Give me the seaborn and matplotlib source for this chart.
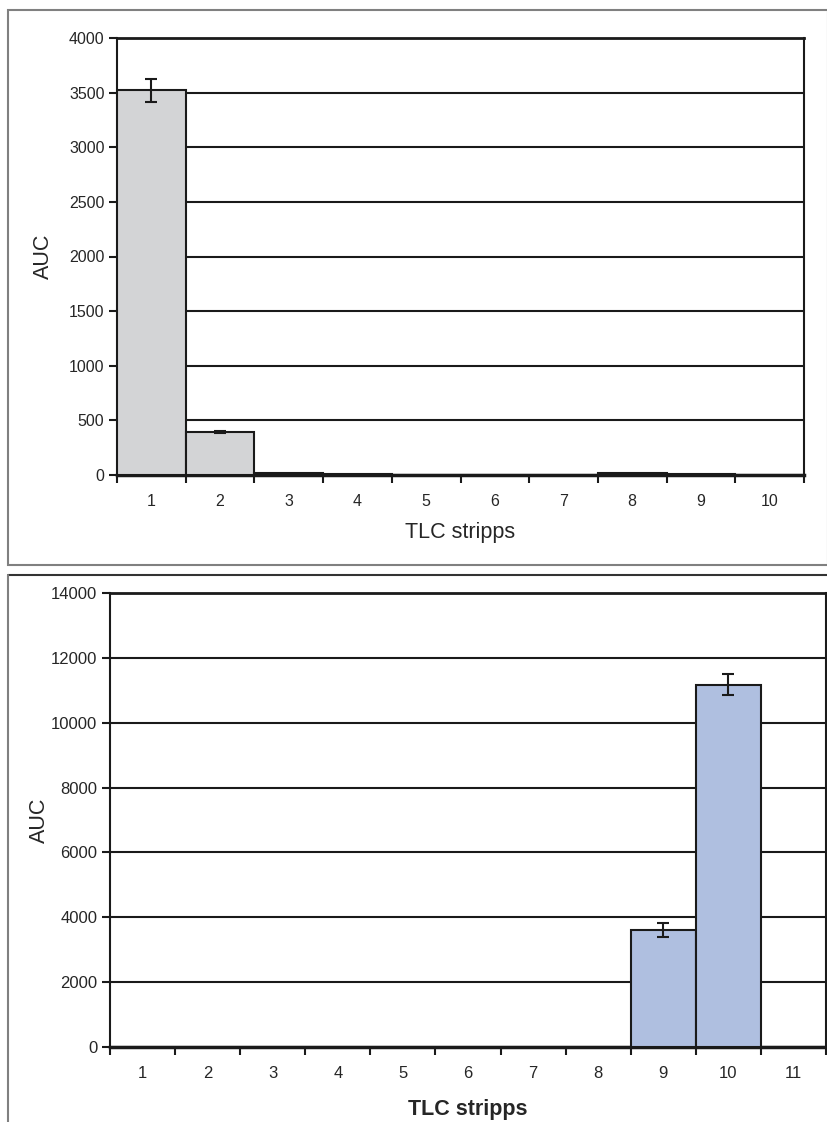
import numpy as np
import pandas as pd
import matplotlib
matplotlib.use("Agg")
import matplotlib.pyplot as plt
from matplotlib.patches import Rectangle
from matplotlib.lines import Line2D
import seaborn as sns

# ---- data ----
top_strips = ["1", "2", "3", "4", "5", "6", "7", "8", "9", "10"]
top_auc = [3520, 395, 15, 5, 3, 3, 3, 20, 12, 3]
top_err = [105, 10, 0, 0, 0, 0, 0, 0, 0, 0]

bot_strips = ["1", "2", "3", "4", "5", "6", "7", "8", "9", "10", "11"]
bot_auc = [15, 15, 15, 15, 15, 15, 15, 15, 3600, 11170, 15]
bot_err = [0, 0, 0, 0, 0, 0, 0, 0, 210, 330, 0]

top_yticks = [0, 500, 1000, 1500, 2000, 2500, 3000, 3500, 4000]
bot_yticks = [0, 2000, 4000, 6000, 8000, 10000, 12000, 14000]

sns.set_style("white")
plt.rcParams["font.family"] = ["Liberation Sans", "DejaVu Sans"]

W, H = 827, 1122
fig = plt.figure(figsize=(W / 100, H / 100), dpi=100)

def fx(px):
    return px / W

def fy(py):
    return 1 - py / H

ax1 = fig.add_axes([fx(117), fy(475), fx(804) - fx(117), fy(38) - fy(475)])
ax2 = fig.add_axes([fx(110), fy(1047), fx(826) - fx(110), fy(593) - fy(1047)])

def draw(ax, cats, vals, errs, color, yticks, ticksize, labsize, bold,
         ypad, xpad):
    df = pd.DataFrame({"strip": cats, "auc": vals})
    sns.barplot(data=df, x="strip", y="auc", order=cats, color=color,
                saturation=1, width=1.0, edgecolor="#1a1a1a", linewidth=1.5,
                ax=ax, zorder=3)
    n = len(cats)
    x = np.arange(n)
    errs = np.array(errs, dtype=float)
    m = errs > 0
    ax.errorbar(x[m], np.array(vals)[m], yerr=errs[m], fmt="none",
                ecolor="#1a1a1a", elinewidth=1.5, capsize=4, capthick=1.5,
                zorder=4)
    ax.set_xlim(-0.5, n - 0.5)
    ax.set_ylim(yticks[0], yticks[-1])
    ax.set_yticks(yticks)
    ax.set_yticklabels([str(t) for t in yticks], fontsize=ticksize)
    for t in yticks[1:-1]:
        ax.axhline(t, color="#1a1a1a", lw=1.5, zorder=1)
    # ticks at boundaries, labels at centers
    ax.set_xticks(np.arange(n + 1) - 0.5)
    ax.set_xticklabels([])
    ax.set_xticks(x, minor=True)
    ax.set_xticklabels(cats, minor=True, fontsize=ticksize)
    ax.tick_params(axis="x", which="major", direction="out", length=6,
                   width=1.5, color="#1a1a1a", bottom=True)
    ax.tick_params(axis="x", which="minor", length=0, pad=14)
    ax.tick_params(axis="y", direction="out", length=6, width=1.5,
                   color="#1a1a1a", left=True, pad=3)
    for s in ax.spines.values():
        s.set_color("#1a1a1a")
        s.set_linewidth(1.5)
        s.set_visible(True)
    ax.spines["bottom"].set_linewidth(2.5)
    ax.spines["top"].set_linewidth(2.0)
    ax.set_ylabel("AUC", fontsize=labsize, labelpad=ypad)
    ax.set_xlabel("TLC stripps", fontsize=labsize, labelpad=xpad,
                  fontweight="bold" if bold else "normal")
    ax.set_facecolor("white")

draw(ax1, top_strips, top_auc, top_err, "#d3d4d6", top_yticks, 11.5, 15.5,
     False, 11, 9)
draw(ax2, bot_strips, bot_auc, bot_err, "#afbfe0", bot_yticks, 12, 15.5,
     True, 1, 13)

# panel frames
fig.add_artist(Rectangle((fx(8), fy(565)), fx(828) - fx(8), fy(10) - fy(565),
                         transform=fig.transFigure, fill=False,
                         edgecolor="#808080", lw=1.5))
fig.add_artist(Line2D([fx(8), 1], [fy(575), fy(575)], transform=fig.transFigure,
                      color="#333333", lw=1.5))
fig.add_artist(Line2D([fx(8), fx(8)], [fy(575), 0], transform=fig.transFigure,
                      color="#808080", lw=1.5))

fig.savefig("out.png", dpi=100)
